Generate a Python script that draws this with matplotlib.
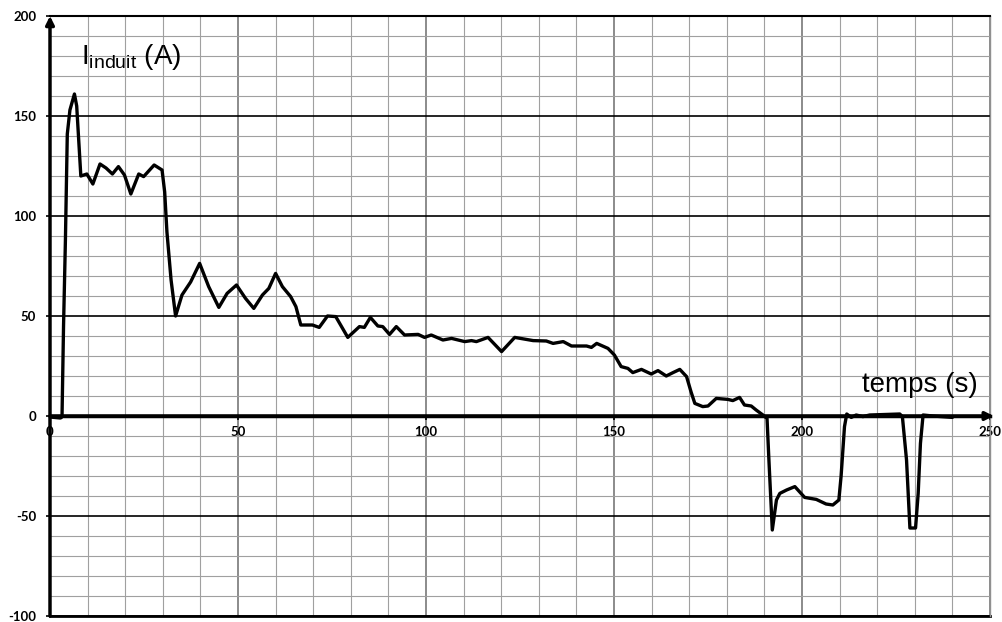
import matplotlib.pyplot as plt
from matplotlib.ticker import MultipleLocator

plt.rcParams['axes.unicode_minus'] = False

# time (s) and induced current (A)
temps = [0, 2.7, 3.0, 3.2, 3.6, 4.1, 4.6, 5.3, 6.5, 7.1, 7.7, 8.2, 9.8, 11.4,
         13.3, 14.9, 16.6, 18.2, 19.8, 21.5, 23.6, 24.9, 27.7, 29.8, 30.5,
         31.1, 32.2, 33.4, 35.1, 37.4, 39.8, 42.2, 44.9, 47.1, 49.6, 52.0,
         54.2, 56.5, 58.2, 60.0, 61.8, 64.0, 65.4, 66.7, 69.8, 71.6, 73.8,
         76.0, 79.2, 82.3, 83.6, 85.2, 87.2, 88.5, 90.3, 92.1, 94.3, 97.9,
         99.6, 101.4, 104.5, 106.8, 110.3, 112.1, 113.4, 116.5, 120.1, 123.6,
         128.5, 132.0, 133.8, 136.5, 138.7, 142.7, 144.0, 145.4, 148.4, 150.1,
         151.9, 153.7, 155.0, 157.3, 159.9, 161.7, 163.9, 165.7, 167.5, 169.3,
         170.5, 171.5, 173.6, 175.0, 177.2, 180.3, 181.6, 183.4, 184.7, 186.5,
         187.8, 189.6, 190.7, 191.2, 192.1, 193.2, 194.1, 195.9, 198.1, 200.7,
         203.8, 206.4, 208.2, 209.8, 210.4, 211.3, 211.9, 213.1, 214.4, 216.2,
         218.0, 222.4, 226.0, 226.7, 227.8, 228.7, 230.2, 230.9, 231.5, 232.2,
         234.8, 240.0]
courant = [-0.5, -1, -0.8, 0, 45, 88, 141, 153, 161, 155, 136, 120, 121, 116,
           126, 124, 121, 124.7, 120.5, 111, 121, 119.7, 125.5, 123, 112,
           92, 68, 50, 60.5, 67, 76.3, 64.7, 54.3, 61.3, 65.5, 58.8,
           53.8, 60.5, 63.8, 71.3, 64.7, 59.7, 54.7, 45.5, 45.5, 44.3, 50,
           49.7, 39.3, 44.7, 44.3, 49.3, 45, 44.7, 40.8, 44.7, 40.5, 40.8,
           39.3, 40.5, 38, 38.8, 37.2, 37.7, 37.2, 39.3, 32.2, 39.3,
           37.7, 37.5, 36.3, 37.2, 35, 35, 34.3, 36.3, 33.8, 30.5,
           24.7, 23.8, 21.7, 23.3, 21, 22.7, 20, 21.7, 23.3, 19.7,
           12, 6.3, 4.7, 5, 8.8, 8.3, 7.7, 9.3, 5.5, 5,
           3, 0.5, -1.2, -22, -57, -42, -38.7, -37, -35.3, -40.7,
           -41.7, -44, -44.5, -42, -30, -5.3, 1, -0.7, 0.5, -0.3,
           0.5, 0.8, 1, -0.3, -22, -56, -56, -38.7, -13.7, 0.5,
           0, -0.7]

fig = plt.figure(figsize=(10.03, 6.22), dpi=100)
ax = fig.add_axes([50 / 1003, 6 / 622, 940 / 1003, 600 / 622])

ax.set_xlim(0, 250)
ax.set_ylim(-100, 200)
ax.xaxis.set_major_locator(MultipleLocator(50))
ax.xaxis.set_minor_locator(MultipleLocator(10))
ax.yaxis.set_major_locator(MultipleLocator(50))
ax.yaxis.set_minor_locator(MultipleLocator(10))

ax.grid(True, which='minor', color='#a0a0a0', lw=0.8)
ax.xaxis.grid(True, which='major', color='#787878', lw=1.2)
ax.yaxis.grid(True, which='major', color='black', lw=1.2)
ax.set_axisbelow(True)

ax.spines['left'].set_visible(False)
ax.spines['bottom'].set_position(('data', 0))
ax.spines['bottom'].set_linewidth(2.5)
ax.spines['top'].set_linewidth(1.5)
ax.spines['right'].set_color('#909090')
ax.spines['right'].set_linewidth(1)
ax.axhline(-100, color='black', lw=2, clip_on=False)

ax.tick_params(which='minor', length=0)
ax.tick_params(which='major', direction='out', length=3, width=1.2, pad=4,
               labelsize=9.5)
ax.tick_params(axis='y', pad=7)
for lab in ax.get_xticklabels() + ax.get_yticklabels():
    lab.set_fontfamily('Lato')
    lab.set_fontweight('bold')

# axis arrows
ax.annotate('', xy=(251, 0), xytext=(0, 0), annotation_clip=False,
            arrowprops=dict(arrowstyle='-|>', lw=2.5, color='black',
                            mutation_scale=12, shrinkA=0, shrinkB=0))
ax.annotate('', xy=(0, 200), xytext=(0, -100), annotation_clip=False,
            arrowprops=dict(arrowstyle='-|>', lw=2.5, color='black',
                            mutation_scale=12, shrinkA=0, shrinkB=0))

ax.plot(temps, courant, color='black', lw=2.4, solid_joinstyle='round',
        solid_capstyle='round', zorder=5)

ax.text(8.3, 176, r'$\mathregular{I_{induit}}$ (A)', fontsize=20,
        family='Liberation Sans')
ax.text(216, 12, 'temps (s)', fontsize=20, family='Liberation Sans')

fig.savefig('out.png', dpi=100)
